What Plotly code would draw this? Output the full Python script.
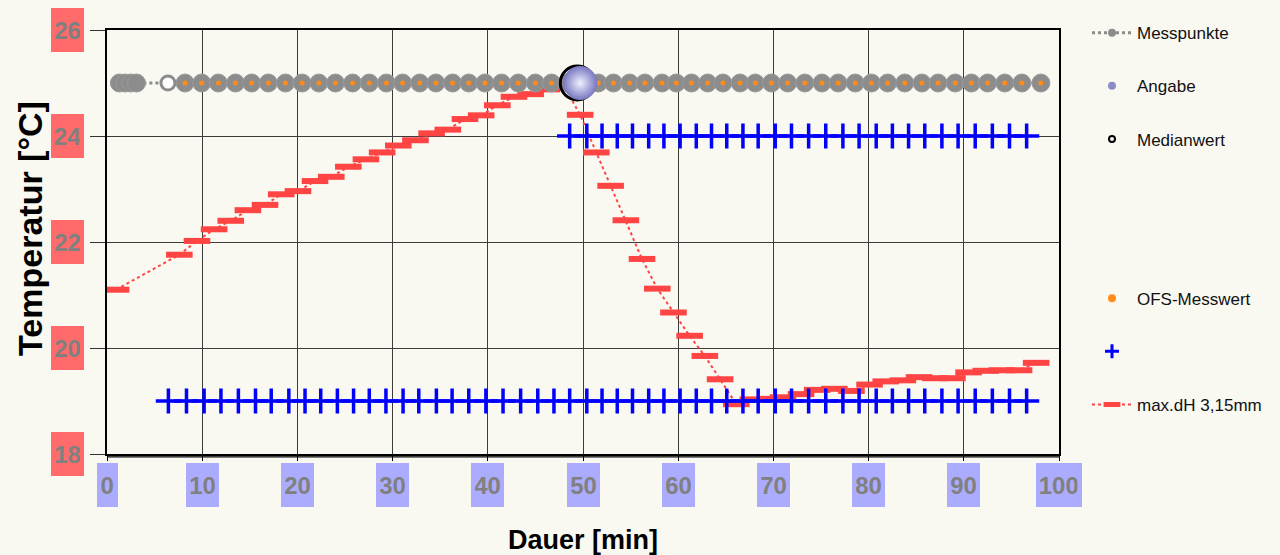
import plotly.graph_objects as go

# ---------------- data ----------------
# Messpunkte (grey measuring points) at 25 °C
mess_x = [1.3, 1.9, 2.5, 3.1, 6.4,
          8.2, 9.95, 11.7, 13.5, 15.2, 16.95, 18.75, 20.5, 22.25, 24.0, 25.8, 27.55,
          29.35, 31.05, 32.85, 34.55, 36.3, 38.0, 39.7, 41.45, 43.2, 45.0, 46.7,
          48.3, 49.9, 51.6, 53.2, 54.9, 56.5, 58.3, 59.8, 61.4, 63.1, 64.7, 66.5,
          68.1, 69.8, 71.5, 73.3, 75.1, 76.8, 78.6, 80.3, 82.0, 83.8, 85.6, 87.3,
          89.1, 90.8, 92.5, 94.3, 96.1, 98.1]
mess_y = [25.0, 25.0, 25.0, 25.0, 25.0,
          25.0, 25.0, 25.0, 25.0, 25.0, 25.0, 25.0, 25.0, 25.0, 25.0, 25.0, 25.0,
          25.0, 25.0, 25.0, 25.0, 25.0, 25.0, 25.0, 25.0, 25.0, 25.0, 25.0,
          25.0, 25.0, 25.0, 25.0, 25.0, 25.0, 25.0, 25.0, 25.0, 25.0, 25.0, 25.0,
          25.0, 25.0, 25.0, 25.0, 25.0, 25.0, 25.0, 25.0, 25.0, 25.0, 25.0, 25.0,
          25.0, 25.0, 25.0, 25.0, 25.0, 25.0]
# the one hollow measuring point
mess_open_x = [6.4]
mess_open_y = [25.0]

# OFS-Messwert (orange dots)
ofs_x = [8.2, 9.95, 11.7, 13.5, 15.2, 16.95, 18.75, 20.5, 22.25, 24.0, 25.8, 27.55,
         29.35, 31.05, 32.85, 34.55, 36.3, 38.0, 39.7, 41.45, 43.2, 45.0, 46.7,
         48.3, 49.9, 51.6, 53.2, 54.9, 56.5, 58.3, 59.8, 61.4, 63.1, 64.7, 66.5,
         68.1, 69.8, 71.5, 73.3, 75.1, 76.8, 78.6, 80.3, 82.0, 83.8, 85.6, 87.3,
         89.1, 90.8, 92.5, 94.3, 96.1, 98.1]
ofs_y = [25.0, 25.0, 25.0, 25.0, 25.0, 25.0, 25.0, 25.0, 25.0, 25.0, 25.0, 25.0,
         25.0, 25.0, 25.0, 25.0, 25.0, 25.0, 25.0, 25.0, 25.0, 25.0, 25.0,
         25.0, 25.0, 25.0, 25.0, 25.0, 25.0, 25.0, 25.0, 25.0, 25.0, 25.0, 25.0,
         25.0, 25.0, 25.0, 25.0, 25.0, 25.0, 25.0, 25.0, 25.0, 25.0, 25.0, 25.0,
         25.0, 25.0, 25.0, 25.0, 25.0, 25.0]

# Angabe / Medianwert
angabe_x = [49.7]
angabe_y = [25.0]
median_x = [49.4]
median_y = [25.0]

# blue "+" limits
lower_x = [6.45, 8.35, 10.2, 11.97, 13.8, 15.6, 17.25, 19.1, 20.8, 22.45, 24.2, 25.9,
           27.55, 29.3, 31.1, 32.75, 34.6, 36.25, 38.0, 39.8, 41.6, 43.45, 45.25, 46.95,
           None,
           48.6, 50.4, 52.0, 53.6, 55.2, 56.9, 58.5, 60.2, 61.9, 63.5, 65.1, 66.8,
           68.4, 70.2, 71.9, 73.7, 75.5, 77.3, 79.0, 80.8, 82.5, 84.2, 85.9, 87.7,
           89.4, 91.2, 93.0, 94.8, 96.6]
lower_y = [19.0, 19.0, 19.0, 19.0, 19.0, 19.0, 19.0, 19.0, 19.0, 19.0, 19.0, 19.0,
           19.0, 19.0, 19.0, 19.0, 19.0, 19.0, 19.0, 19.0, 19.0, 19.0, 19.0, 19.0,
           None,
           19.0, 19.0, 19.0, 19.0, 19.0, 19.0, 19.0, 19.0, 19.0, 19.0, 19.0, 19.0,
           19.0, 19.0, 19.0, 19.0, 19.0, 19.0, 19.0, 19.0, 19.0, 19.0, 19.0, 19.0,
           19.0, 19.0, 19.0, 19.0, 19.0]
upper_x = [48.6, 50.4, 52.0, 53.6, 55.2, 56.9, 58.5, 60.2, 61.9, 63.5, 65.1, 66.8,
           68.4, 70.2, 71.9, 73.7, 75.5, 77.3, 79.0, 80.8, 82.5, 84.2, 85.9, 87.7,
           89.4, 91.2, 93.0, 94.8, 96.6]
upper_y = [24.0, 24.0, 24.0, 24.0, 24.0, 24.0, 24.0, 24.0, 24.0, 24.0, 24.0, 24.0,
           24.0, 24.0, 24.0, 24.0, 24.0, 24.0, 24.0, 24.0, 24.0, 24.0, 24.0, 24.0,
           24.0, 24.0, 24.0, 24.0, 24.0]

# max.dH 3,15mm (red)
dh_x = [0.95, 7.6, 9.45, 11.25, 13.0, 14.8, 16.6, 18.3, 20.06, 21.85, 23.56, 25.35,
        27.2, 28.9, 30.6, 32.4, 34.1, 35.8, 37.6, 39.3, 41.0, 42.75, 44.5, 46.2, 47.9,
        49.7, 51.4, 52.9, 54.5, 56.2, 57.8, 59.5, 61.2, 62.8, 64.4, 66.1,
        67.85, 69.6, 71.0, 72.9, 74.6, 76.4, 78.2, 80.1, 81.8, 83.6, 85.3, 87.0,
        88.8, 90.5, 92.3, 94.0, 95.8, 97.6]
dh_y = [21.10, 21.76, 22.02, 22.24, 22.40, 22.60, 22.70, 22.90, 22.96, 23.15, 23.23, 23.42,
        23.56, 23.69, 23.82, 23.92, 24.05, 24.12, 24.32, 24.39, 24.58, 24.74, 24.79, 24.88, 24.98,
        24.40, 23.69, 23.06, 22.41, 21.68, 21.12, 20.67, 20.23, 19.85, 19.41, 18.94,
        19.03, 19.04, 19.07, 19.13, 19.21, 19.23, 19.19, 19.31, 19.37, 19.39, 19.45, 19.43,
        19.43, 19.54, 19.57, 19.58, 19.58, 19.72]

x_ticks = [0, 10, 20, 30, 40, 50, 60, 70, 80, 90, 100]
y_ticks = [18, 20, 22, 24, 26]

legend_names = ["Messpunkte", "Angabe", "Medianwert", "OFS-Messwert", "", "max.dH 3,15mm"]

# ---------------- styling ----------------
BG = "#f9f8f1"
GREY = "#8c8c8c"
RED = "#ff4444"
BLUE = "#0000ff"
ORANGE = "#ff8c1a"
SANS = "Liberation Sans, Arial, sans-serif"
TRANSPARENT = "rgba(0,0,0,0)"

fig = go.Figure()

# red series
fig.add_trace(go.Scatter(
    x=dh_x, y=dh_y, mode="lines+markers", showlegend=False,
    line=dict(color=RED, width=2, dash="dot"),
    marker=dict(symbol="line-ew", size=19, line=dict(color=RED, width=6)),
))
# blue limits
for xs, ys in ((lower_x, lower_y), (upper_x, upper_y)):
    fig.add_trace(go.Scatter(
        x=xs, y=ys, mode="lines+markers", showlegend=False,
        line=dict(color=BLUE, width=2.5),
        marker=dict(symbol="cross-thin", size=18, line=dict(color=BLUE, width=3.5)),
    ))
# Messpunkte
fig.add_trace(go.Scatter(
    x=mess_x, y=mess_y, mode="lines", showlegend=False,
    line=dict(color=GREY, width=3, dash="dot"),
))
fig.add_trace(go.Scatter(
    x=[v for v in mess_x if v not in mess_open_x],
    y=[mess_y[i] for i, v in enumerate(mess_x) if v not in mess_open_x],
    mode="markers", showlegend=False,
    marker=dict(size=18, color=GREY, line=dict(color="#9a9a9a", width=1)),
))
fig.add_trace(go.Scatter(
    x=mess_open_x, y=mess_open_y, mode="markers", showlegend=False,
    marker=dict(size=14, color="white", line=dict(color=GREY, width=3)),
))
# OFS
fig.add_trace(go.Scatter(
    x=ofs_x, y=ofs_y, mode="markers", showlegend=False,
    marker=dict(size=5, color=ORANGE),
))
# Medianwert (black ring) and Angabe (sphere)
fig.add_trace(go.Scatter(
    x=median_x, y=median_y, mode="markers", showlegend=False,
    marker=dict(size=34, color=TRANSPARENT, line=dict(color="black", width=3)),
))
fig.add_trace(go.Scatter(
    x=angabe_x, y=angabe_y, mode="markers", showlegend=False,
    marker=dict(size=34, color="#7676c0", line=dict(width=0),
                gradient=dict(type="radial", color="#f0f0ff")),
))

# ---------------- legend entries ----------------
def leg(name, group, **kw):
    fig.add_trace(go.Scatter(x=[None], y=[None], name=name, legendgroup=group, **kw))

leg(legend_names[0], "g1", mode="lines+markers",
    line=dict(color=GREY, width=3, dash="dot"), marker=dict(size=8, color=GREY))
leg(legend_names[1], "g2", mode="markers", marker=dict(size=8, color="#8c8cc8"))
leg(legend_names[2], "g3", mode="markers",
    marker=dict(size=6, color=TRANSPARENT, line=dict(color="black", width=2)))
leg(" ", "g4", mode="markers", marker=dict(size=6, color=TRANSPARENT, line=dict(width=0)))
leg(" ", "g5", mode="markers", marker=dict(size=6, color=TRANSPARENT, line=dict(width=0)))
leg(legend_names[3], "g6", mode="markers", marker=dict(size=8, color=ORANGE))
leg(legend_names[4] or " ", "g7", mode="markers",
    marker=dict(symbol="cross-thin", size=10, line=dict(color=BLUE, width=3)))
leg(legend_names[5], "g8", mode="lines+markers",
    line=dict(color=RED, width=2, dash="dot"),
    marker=dict(symbol="line-ew", size=12, line=dict(color=RED, width=6)))

# ---------------- tick label boxes ----------------
annotations = []
for t in y_ticks:
    annotations.append(dict(
        x=-0.041, xref="paper", y=t, yref="y", text=f"<b>{t}</b>", showarrow=False,
        xanchor="center", yanchor="middle", bgcolor="#ff6b6b", borderpad=4, borderwidth=0,
        width=12.5 * len(str(t)), height=36,
        font=dict(family=SANS, size=24, color="#808080"),
    ))
for t in x_ticks:
    annotations.append(dict(
        x=t, xref="x", y=-0.073, yref="paper", text=f"<b>{t}</b>", showarrow=False,
        xanchor="center", yanchor="middle", bgcolor="#acacff", borderpad=4, borderwidth=0,
        width=12.5 * len(str(t)), height=36,
        font=dict(family=SANS, size=24, color="#808080"),
    ))
annotations.append(dict(
    x=-0.081, xref="paper", y=0.533, yref="paper", text="<b>Temperatur [°C]</b>",
    textangle=-90, showarrow=False, xanchor="center", yanchor="middle",
    font=dict(family=SANS, size=34, color="black"),
))
annotations.append(dict(
    x=0.5, xref="paper", y=-0.203, yref="paper", text="<b>Dauer [min]</b>",
    showarrow=False, xanchor="center", yanchor="middle",
    font=dict(family=SANS, size=27, color="black"),
))

fig.update_layout(
    width=1280, height=555,
    paper_bgcolor=BG, plot_bgcolor=BG,
    margin=dict(l=107, r=221, t=30, b=101),
    annotations=annotations,
    legend=dict(
        x=1.0 + (1087 - 1059) / 952, xanchor="left", y=1.035, yanchor="top",
        font=dict(family=SANS, size=17, color="#111111"),
        bgcolor=TRANSPARENT, traceorder="grouped", tracegroupgap=28,
        itemwidth=40, maxheight=540, itemclick=False,
    ),
    shapes=[dict(type="line", xref="paper", yref="paper", x0=0, x1=1, y0=-0.007, y1=-0.007,
                 line=dict(color="black", width=1.2))],
)
fig.update_xaxes(
    range=[0, 100], tickvals=x_ticks, showticklabels=False,
    showgrid=True, gridcolor="#3c3c3c", gridwidth=1.3,
    showline=True, mirror=True, linecolor="black", linewidth=1.5,
    ticks="outside", ticklen=5, tickcolor="black", zeroline=False,
)
fig.update_yaxes(
    range=[18, 26], tickvals=y_ticks, showticklabels=False,
    showgrid=True, gridcolor="#3c3c3c", gridwidth=1.3,
    showline=True, mirror=True, linecolor="black", linewidth=1.5,
    ticks="outside", ticklen=15, tickcolor="#333333", zeroline=False,
)

fig.write_html("out.html", config={"displayModeBar": False},
               post_script="document.body.style.margin='0px';")
